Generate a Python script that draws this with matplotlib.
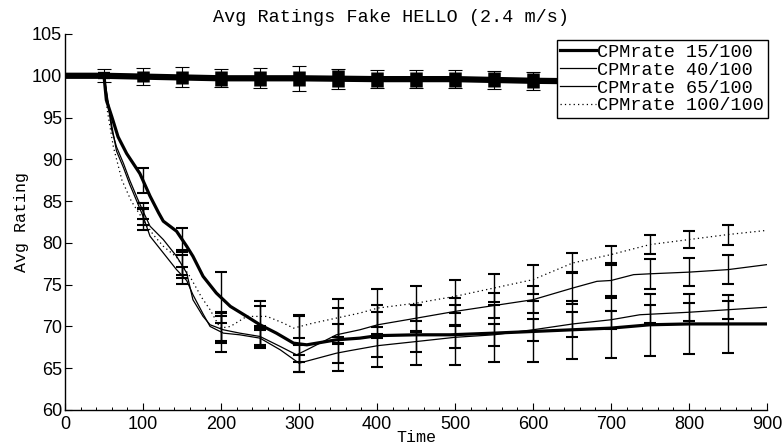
import numpy as np
import matplotlib
matplotlib.use("Agg")
import matplotlib.pyplot as plt

# average rating curves, one per CPM rate, plus the reference run near 100
t_15 = [0, 50, 53, 60, 68, 79, 96, 109, 120, 126, 143, 156, 164, 177, 194, 212, 233, 250,
        271, 293, 310, 348, 378, 401, 450, 494, 550, 600, 650, 700, 750, 800, 850, 900]
r_15 = [100, 100, 97.1, 95.1, 92.7, 90.7, 88.3, 85.6, 83.6, 82.6, 81.4, 79.6, 78.4, 76.0, 74.0,
        72.4, 71.2, 70.2, 69.2, 68.0, 67.8, 68.4, 68.6, 68.9, 69.0, 69.0, 69.2, 69.4, 69.6,
        69.8, 70.2, 70.3, 70.3, 70.3]

t_40 = [0, 50, 56, 60, 66, 75, 83, 92, 100, 109, 126, 143, 156, 164, 177, 186, 203, 224, 250,
        276, 300, 348, 365, 401, 451, 500, 550, 600, 651, 700, 737, 800, 850, 900]
r_40 = [100, 100, 96.5, 94.0, 91.0, 89.0, 87.0, 85.0, 83.2, 80.8, 78.8, 76.8, 75.5, 73.8, 71.5,
        70.0, 69.2, 69.0, 68.6, 67.2, 65.6, 66.8, 67.1, 67.7, 68.2, 68.7, 69.0, 69.6, 70.3,
        70.8, 71.4, 71.7, 72.0, 72.3]

t_65 = [0, 50, 55, 60, 66, 75, 83, 92, 100, 109, 126, 143, 156, 164, 177, 186, 203, 224, 250,
        276, 297, 310, 348, 378, 401, 451, 500, 550, 600, 651, 682, 700, 729, 750, 800, 850, 900]
r_65 = [100, 100, 96.7, 93.5, 91.5, 89.5, 87.5, 85.5, 83.8, 82.0, 80.4, 78.4, 76.4, 73.2, 71.2,
        70.2, 69.6, 69.2, 68.8, 67.6, 66.6, 67.2, 69.0, 69.6, 70.2, 71.0, 71.8, 72.5, 73.2,
        74.6, 75.4, 75.5, 76.2, 76.3, 76.5, 76.8, 77.4]

t_100 = [0, 50, 54, 62, 73, 85, 100, 113, 126, 143, 160, 175, 186, 199, 212, 233, 259, 280,
         293, 318, 348, 378, 401, 451, 500, 550, 600, 651, 700, 750, 800, 850, 900]
r_100 = [100, 100, 96.0, 91.5, 87.5, 85.0, 82.8, 81.0, 79.6, 78.3, 76.0, 73.5, 72.0, 69.8, 70.0,
         71.2, 71.2, 70.4, 69.8, 70.4, 71.0, 71.6, 72.2, 72.8, 73.6, 74.6, 75.6, 77.6, 78.6,
         79.8, 80.4, 81.0, 81.5]

t_ref = [0, 50, 100, 150, 200, 300, 400, 500, 600, 700, 800, 900]
r_ref = [100, 100, 99.9, 99.8, 99.7, 99.7, 99.6, 99.6, 99.4, 99.3, 99.2, 99.0]

# error bar half widths, sampled every 50 s from 50 to 850
t_err = np.arange(50, 851, 50)
e_15 = [0.3, 1.5, 1.3, 3.0, 2.8, 3.4, 3.8, 3.7, 3.6, 3.6, 3.4, 3.6, 3.5, 3.6, 3.7, 3.6, 3.5]
e_40 = [0.3, 1.0, 1.0, 2.4, 1.0, 1.0, 1.2, 1.4, 1.3, 1.3, 1.3, 1.3, 1.5, 1.1, 1.1, 1.1, 1.1]
e_65 = [0.3, 1.0, 1.2, 1.5, 1.0, 1.0, 1.2, 1.5, 1.6, 1.6, 1.5, 1.6, 1.9, 1.9, 1.8, 1.7, 1.7]
e_100 = [0.3, 1.2, 1.5, 1.8, 1.2, 1.3, 2.3, 2.3, 2.1, 2.0, 1.7, 1.7, 1.2, 1.0, 1.1, 1.0, 1.2]
e_ref_block = [0.0, 0.7, 0.8, 0.9, 0.9, 0.9, 1.0, 0.9, 0.9, 0.9, 0.9, 0.9, 0.9, 0.9, 0.9, 0.9, 0.9]
e_ref_cap = [0.8, 1.0, 1.2, 1.1, 1.2, 1.5, 1.2, 1.1, 1.1, 1.1, 1.1, 1.1, 1.1, 1.1, 1.1, 1.1, 1.1]

labels = ["CPMrate 15/100", "CPMrate 40/100", "CPMrate 65/100", "CPMrate 100/100"]

mono = ["Liberation Mono", "DejaVu Sans Mono"]
narrow = ["Liberation Sans Narrow", "Liberation Sans", "DejaVu Sans"]

fig = plt.figure(figsize=(7.82, 4.46), dpi=100)
ax = fig.add_axes([65 / 782, 1 - 410 / 446, 702 / 782, 376 / 446])

# reference run: heavy line with block-like error bars
ax.plot(t_ref, r_ref, color="k", lw=4.5, solid_capstyle="butt", zorder=3)
c_ref = np.interp(t_err, t_ref, r_ref)
ax.errorbar(t_err, c_ref, yerr=e_ref_block, fmt="none", ecolor="k", elinewidth=9, zorder=3)
ax.errorbar(t_err, c_ref, yerr=e_ref_cap, fmt="none", ecolor="k", elinewidth=0.8,
            capsize=5, capthick=0.8, zorder=3)

series = [
    (t_15, r_15, e_15, dict(lw=2.3, ls="-")),
    (t_40, r_40, e_40, dict(lw=0.9, ls="-")),
    (t_65, r_65, e_65, dict(lw=0.9, ls="-")),
    (t_100, r_100, e_100, dict(lw=0.9, ls=(0, (1, 2.5)))),
]

handles = []
for (tt, rr, ee, style), lab in zip(series, labels):
    ln, = ax.plot(tt, rr, color="k", label=lab, zorder=4, **style)
    handles.append(ln)
    centers = np.interp(t_err, tt, rr)
    ax.errorbar(t_err, centers, yerr=ee, fmt="none", ecolor="k", elinewidth=1.0,
                capsize=4.3, capthick=1.5, zorder=4)

ax.set_xlim(0, 900)
ax.set_ylim(60, 105)
ax.set_xticks(np.arange(0, 901, 100))
ax.set_xticks(np.arange(0, 901, 20), minor=True)
ax.set_yticks(np.arange(60, 106, 5))
ax.tick_params(axis="both", which="major", direction="in", length=5, width=0.8,
               labelsize=13, pad=2)
ax.tick_params(axis="x", which="major", pad=4)
ax.tick_params(axis="x", which="minor", direction="in", length=2.5, width=0.7)
for lab in ax.get_xticklabels() + ax.get_yticklabels():
    lab.set_fontfamily(narrow)

ax.spines["top"].set_visible(False)
ax.spines["right"].set_visible(False)
ax.spines["left"].set_linewidth(1.0)
ax.spines["bottom"].set_linewidth(1.0)

fig.text(0.5, 1 - 18 / 446, "Avg Ratings Fake HELLO (2.4 m/s)", family=mono, fontsize=13.3,
         ha="center", va="center")
ax.set_xlabel("Time", family=mono, fontsize=12, labelpad=-2)
ax.set_ylabel("Avg Rating", family=mono, fontsize=12, labelpad=2)

leg = ax.legend(handles=handles, loc="upper right", bbox_to_anchor=(768 / 782, 1 - 40 / 446),
                bbox_transform=fig.transFigure, borderaxespad=0, fancybox=False,
                edgecolor="k", framealpha=1, prop={"family": mono, "size": 13.3},
                handlelength=1.9, handletextpad=0.1, labelspacing=0.05, borderpad=0.2)
leg.get_frame().set_linewidth(1.0)

fig.savefig("out.png", dpi=100)
